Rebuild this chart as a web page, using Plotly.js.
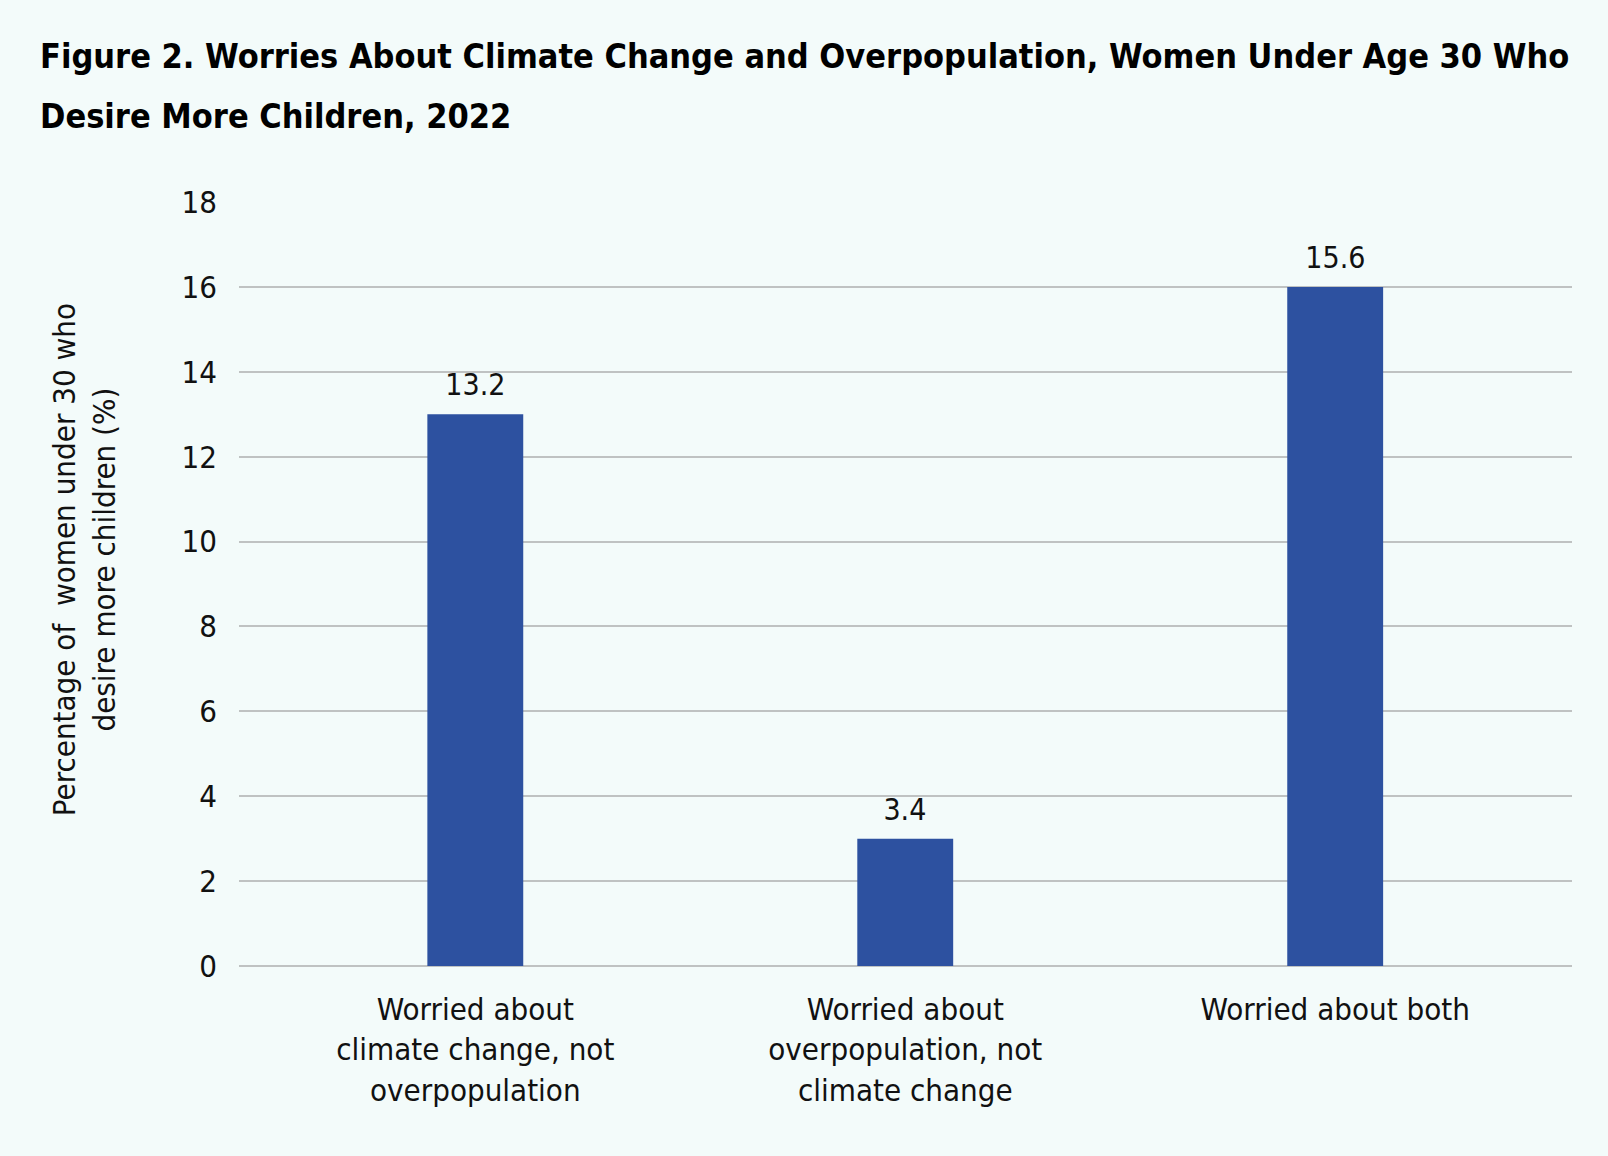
<!DOCTYPE html>
<html>
<head>
<meta charset="utf-8">
<script src="https://cdn.plot.ly/plotly-3.0.1.min.js"></script>
<style>
  html, body { margin: 0; padding: 0; background: #f3fbfa; }
  #chart { width: 1608px; height: 1156px; }
  #chart svg text { font-stretch: condensed !important; }
</style>
</head>
<body>
<div id="chart"></div>
<script>
// Data
const categories = [
  "Worried about<br>climate change, not<br>overpopulation",
  "Worried about<br>overpopulation, not<br>climate change",
  "Worried about both"
];
const barValues = [13, 3, 16];             // bar heights as drawn
const barLabels = ["13.2", "3.4", "15.6"]; // data labels as printed
const yTicks = [0, 2, 4, 6, 8, 10, 12, 14, 16, 18];

const titleLines = [
  "Figure 2. Worries About Climate Change and Overpopulation, Women Under Age 30 Who",
  "Desire More Children, 2022"
];
const yTitleText = "Percentage of  women under 30 who<br>desire more children (%)";

const FONT = "'DejaVu Sans', sans-serif";
const BG = "#f3fbfa";

// plot-area geometry in pixels (used only to place the free text)
const M = { l: 239, r: 36, t: 202, b: 190 };
const PW = 1608 - M.l - M.r, PH = 1156 - M.t - M.b;
const px2x = px => (px - M.l) / PW;
const px2y = py => (1156 - M.b - py) / PH;

const trace = {
  type: "bar",
  x: [0, 1, 2],
  y: barValues,
  marker: { color: "#2d51a0", line: { width: 0 } },
  width: 0.223,
  hoverinfo: "none"
};

const valueAnnots = barValues.map((v, i) => ({
  text: barLabels[i],
  xref: "x",
  yref: "y",
  x: i,
  y: v,
  xanchor: "center",
  yanchor: "bottom",
  yshift: 10,
  showarrow: false,
  font: { family: FONT, size: 30, color: "#111111" }
}));

const titleAnnots = titleLines.map((t, i) => ({
  text: t,
  xref: "paper",
  yref: "paper",
  x: px2x(38),
  y: px2y(i === 0 ? 56 : 116),
  xanchor: "left",
  yanchor: "middle",
  align: "left",
  showarrow: false,
  font: { family: FONT, size: 34, color: "#000000", weight: "bold" }
}));

const layout = {
  width: 1608,
  height: 1156,
  paper_bgcolor: BG,
  plot_bgcolor: BG,
  margin: { l: M.l, r: M.r, t: M.t, b: M.b, pad: 0 },
  showlegend: false,
  font: { family: FONT, color: "#111111" },
  xaxis: {
    type: "linear",
    range: [-0.5496, 2.5508],
    tickmode: "array",
    tickvals: [0, 1, 2],
    ticktext: categories,
    ticks: "",
    showgrid: false,
    zeroline: false,
    showline: false,
    tickfont: { family: FONT, size: 31, color: "#111111" },
    ticklabelstandoff: 22,
    fixedrange: true
  },
  yaxis: {
    range: [0, 18],
    tickmode: "array",
    tickvals: yTicks,
    ticktext: yTicks.map(String),
    showgrid: true,
    gridcolor: "#bfc2c2",
    gridwidth: 2,
    zeroline: true,
    zerolinecolor: "#bfc2c2",
    zerolinewidth: 2.5,
    showline: false,
    ticks: "",
    tickfont: { family: FONT, size: 31, color: "#111111" },
    ticklabelstandoff: 21,
    fixedrange: true
  },
  annotations: titleAnnots.concat(valueAnnots, [
    {
      text: yTitleText,
      xref: "paper",
      yref: "paper",
      x: px2x(84),
      y: px2y(560),
      xanchor: "center",
      yanchor: "middle",
      textangle: -90,
      showarrow: false,
      align: "center",
      font: { family: FONT, size: 31, color: "#111111" }
    }
  ])
};

Plotly.newPlot("chart", [trace], layout, { displayModeBar: false, staticPlot: true });
</script>
</body>
</html>
